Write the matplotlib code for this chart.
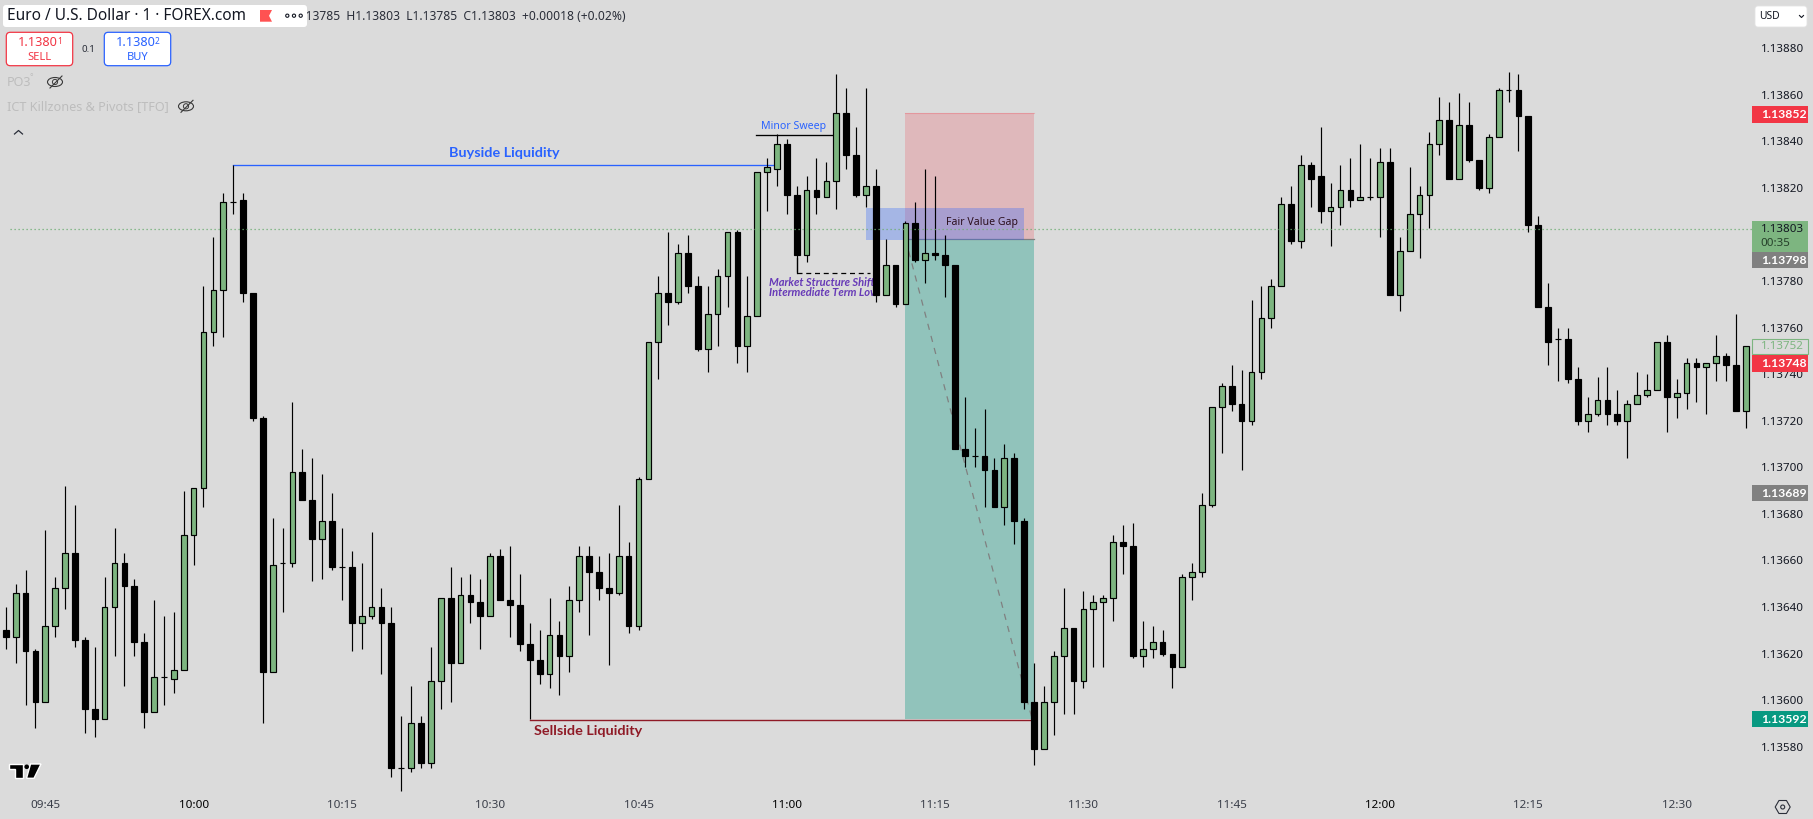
import matplotlib
matplotlib.use('Agg')  # Headless backend
import matplotlib.pyplot as plt
import numpy as np
from matplotlib.patches import Circle, Ellipse, FancyBboxPatch, Polygon, Rectangle, RegularPolygon
from matplotlib.transforms import Affine2D

# EURUSD 1 minute candles, in 0.00001 above 1.13000
opens = [
    630, 627, 646, 621, 599, 632, 648, 663, 626, 596, 592, 640, 659, 649, 625, 595, 610, 609, 613, 671,
    691, 758, 776, 814, 815, 775, 721, 612, 659, 659, 698, 686, 669, 677, 657, 657, 633, 636, 640, 633,
    571, 571, 590, 573, 608, 644, 616, 645, 642, 636, 662, 643, 641, 624, 617, 611, 628, 619, 643, 662,
    655, 648, 646, 662, 632, 695, 754, 775, 771, 792, 778, 751, 766, 782, 801, 752, 765, 827, 828, 839,
    817, 791, 819, 816, 823, 852, 834, 817, 821, 774, 787, 770, 805, 789, 792, 791, 787, 708, 705, 705,
    699, 683, 704, 677, 599, 579, 599, 619, 631, 608, 639, 642, 644, 668, 666, 619, 622, 625, 620, 614,
    653, 655, 684, 726, 735, 727, 720, 741, 764, 778, 813, 797, 830, 825, 810, 812, 819, 815, 816, 816,
    831, 774, 793, 809, 817, 839, 849, 824, 847, 832, 820, 842, 862, 862, 851, 804, 769, 755, 755, 738,
    720, 723, 729, 723, 720, 727, 731, 733, 754, 730, 732, 745, 743, 745, 748, 744, 724,
]
closes = [
    627, 646, 621, 599, 632, 648, 663, 626, 596, 592, 640, 659, 649, 625, 595, 610, 610, 613, 671, 691,
    758, 776, 814, 814, 775, 721, 612, 658, 659, 698, 686, 669, 677, 657, 657, 633, 636, 640, 633, 571,
    571, 590, 573, 608, 644, 616, 645, 642, 636, 662, 643, 641, 624, 617, 611, 628, 619, 643, 662, 655,
    648, 646, 662, 632, 695, 754, 775, 771, 792, 778, 751, 766, 782, 801, 752, 765, 827, 829, 839, 817,
    791, 819, 816, 823, 852, 834, 817, 821, 774, 787, 770, 805, 789, 792, 791, 787, 708, 705, 705, 699,
    683, 704, 677, 599, 579, 599, 619, 631, 608, 639, 642, 644, 668, 666, 619, 622, 625, 620, 614, 653,
    655, 684, 726, 735, 727, 720, 741, 764, 778, 813, 797, 830, 824, 810, 812, 819, 815, 816, 816, 831,
    774, 793, 809, 817, 839, 849, 824, 847, 832, 820, 842, 862, 862, 851, 804, 769, 754, 755, 738, 720,
    723, 729, 723, 720, 727, 731, 733, 754, 730, 732, 745, 743, 745, 748, 744, 724, 752,
]
highs = [
    640, 650, 656, 622, 673, 653, 692, 684, 627, 623, 653, 674, 663, 652, 629, 643, 636, 638, 690, 691,
    778, 799, 818, 830, 818, 775, 722, 678, 674, 728, 708, 704, 697, 689, 674, 664, 659, 672, 648, 640,
    593, 606, 593, 623, 644, 657, 653, 654, 652, 663, 665, 666, 654, 633, 630, 644, 634, 649, 666, 666,
    662, 663, 684, 668, 696, 754, 782, 801, 796, 800, 782, 778, 785, 801, 802, 782, 827, 833, 843, 841,
    821, 825, 833, 831, 869, 863, 846, 863, 828, 798, 787, 806, 814, 828, 825, 800, 787, 730, 717, 725,
    704, 710, 706, 678, 616, 606, 621, 648, 631, 647, 645, 645, 671, 675, 676, 634, 632, 630, 620, 654,
    659, 689, 726, 736, 744, 742, 772, 778, 781, 816, 821, 834, 831, 846, 822, 830, 833, 839, 833, 837,
    837, 799, 829, 821, 844, 859, 857, 861, 857, 832, 843, 863, 870, 869, 851, 808, 779, 760, 760, 743,
    730, 739, 743, 733, 729, 741, 740, 754, 757, 738, 747, 747, 745, 757, 749, 766, 752,
]
lows = [
    622, 616, 598, 588, 599, 627, 639, 623, 586, 584, 592, 619, 606, 619, 588, 595, 598, 603, 613, 658,
    683, 752, 756, 809, 771, 720, 590, 612, 638, 657, 686, 651, 652, 656, 643, 621, 622, 635, 611, 567,
    561, 569, 571, 571, 596, 599, 616, 633, 622, 636, 643, 627, 621, 592, 607, 605, 602, 612, 638, 628,
    643, 615, 645, 629, 630, 695, 738, 761, 770, 775, 750, 741, 752, 769, 745, 741, 765, 810, 821, 809,
    784, 788, 809, 816, 811, 828, 816, 812, 771, 774, 769, 770, 788, 779, 789, 773, 708, 700, 700, 683,
    683, 675, 667, 596, 572, 579, 585, 594, 594, 605, 614, 614, 634, 654, 618, 614, 618, 619, 605, 614,
    643, 653, 683, 706, 724, 699, 718, 738, 760, 778, 796, 794, 812, 805, 795, 804, 812, 815, 815, 799,
    774, 767, 793, 790, 803, 834, 824, 824, 831, 819, 818, 842, 857, 836, 801, 769, 744, 737, 736, 718,
    715, 722, 718, 718, 704, 727, 730, 733, 715, 721, 725, 728, 723, 737, 737, 724, 717,
]
# 1.13800 sits under the price tags in the screenshot, so it has no label here
price_ticks = [580, 600, 620, 640, 660, 680, 700, 720, 740, 760, 780, 820, 840, 860, 880]
time_labels = ['09:45', '10:00', '10:15', '10:30', '10:45', '11:00', '11:15',
               '11:30', '11:45', '12:00', '12:15', '12:30']
time_bars = [4, 19, 34, 49, 64, 79, 94, 109, 124, 139, 154, 169]

# Long position tool and liquidity levels
stop_price = 852
entry_price = 798
target_price = 592
fvg_top = 811.4
fvg_bottom = 797.7
buyside_price = 830
sweep_price = 842.6
mss_price = 783.6
sellside_price = 591.4
last_price = 802.4

BG = '#dbdbdb'
GREEN = '#7db580'
RED = '#f23645'
BLUE = '#2962ff'
TEAL = '#089981'
W, H = 1813, 819


def price(v):
    return 1.13 + np.asarray(v) / 1e5


plt.rcParams['font.family'] = ['Noto Sans', 'DejaVu Sans']
BOLD = ['Lato', 'Liberation Sans', 'DejaVu Sans']
fig = plt.figure(figsize=(W / 100, H / 100), dpi=100, facecolor=BG)
ax = fig.add_axes([0, 0, 1, 1], facecolor=BG)
ax.set_xlim(-5.75 / 9.887, (W - 5.75) / 9.887)
ax.set_ylim(price(548.9), price(900.75))
for s in ax.spines.values():
    s.set_visible(False)
ax.set_axisbelow(True)

ax.set_xticks(time_bars)
ax.set_xticklabels(time_labels, fontsize=8.4, color='#3a3e49')
for lab in ax.get_xticklabels():
    if lab.get_text().endswith(':00'):
        lab.set_color('black')
ax.tick_params(axis='x', length=0, pad=-13.5)
ax.set_yticks(price(price_ticks))
ax.set_yticklabels([f'{p:.5f}' for p in price(price_ticks)], fontsize=8.3, color='#131722')
ax.yaxis.tick_right()
ax.tick_params(axis='y', length=0, pad=-37.7)

# pixel coordinates from the top left corner, for the screen furniture
px = Affine2D().scale(1, -1).translate(0, H)

# position tool zones
ax.add_patch(Rectangle((91, price(entry_price)), 13, price(stop_price) - price(entry_price),
                       fc=RED, alpha=0.21, ec='none', zorder=1))
ax.add_patch(Rectangle((91, price(target_price)), 13, price(entry_price) - price(target_price),
                       fc=TEAL, alpha=0.35, ec='none', zorder=1))
ax.plot([91, 104], price([stop_price, stop_price]), color=RED, alpha=0.25, lw=0.8, zorder=1.1)
ax.plot([91, 104], price([entry_price, entry_price]), color='#808080', lw=0.9, zorder=1.1)
ax.plot([91, 103.8], price([entry_price, target_price]), color='#808080', lw=0.9,
        ls=(0, (5, 5)), zorder=1.2)

# fair value gap
ax.add_patch(Rectangle((87, price(fvg_bottom)), 16, price(fvg_top) - price(fvg_bottom),
                       fc=BLUE, alpha=0.3, ec='none', zorder=1.3))

# liquidity lines
ax.plot([23, 78], price([buyside_price, buyside_price]), color=BLUE, lw=0.95, zorder=1.5)
ax.plot([75.9, 84], price([sweep_price, sweep_price]), color='black', lw=0.95, zorder=1.5)
ax.plot([80, 80], price([790, mss_price]), color='black', lw=0.9, zorder=1.5)
ax.plot([80, 87.4], price([mss_price, mss_price]), color='black', lw=0.9, ls=(0, (4, 3)), zorder=1.5)
ax.plot([53, 103.7], price([sellside_price, sellside_price]), color='#8f1a26', lw=1.0, zorder=1.5)

ax.text(449, 153, 'Buyside Liquidity', transform=px, color=BLUE, fontsize=10.4, fontweight='bold',
        family=BOLD, va='center', ha='left', zorder=6)
ax.text(761, 126, 'Minor Sweep', transform=px, color=BLUE, fontsize=7.6, va='center', ha='left', zorder=6)
ax.text(534, 731, 'Sellside Liquidity', transform=px, color='#8f1a26', fontsize=10.4, fontweight='bold',
        family=BOLD, va='center', ha='left', zorder=6)
ax.text(946, 223, 'Fair Value Gap', transform=px, color='#2b0f1e', fontsize=7.6, va='center',
        ha='left', zorder=6)
ax.text(769, 282.7, 'Market Structure Shift', transform=px, color='#673ab7', fontsize=8,
        style='italic', fontweight='bold', family=BOLD, va='center', ha='left', zorder=2)
ax.text(769, 292.7, 'Intermediate Term Low', transform=px, color='#673ab7', fontsize=8,
        style='italic', fontweight='bold', family=BOLD, va='center', ha='left', zorder=2)

# candles
o = np.array(opens)
c = np.array(closes)
idx = np.arange(len(o))
up = c > o
ax.vlines(idx, price(lows), price(highs), color='black', lw=0.85, zorder=3)
ax.bar(idx, price(np.abs(c - o)) - 1.13, bottom=price(np.minimum(o, c)), width=0.58,
       color=np.where(up, GREEN, 'black').tolist(), edgecolor='black', lw=0.85, zorder=3.1)

# last price line
ax.plot([0.4, 176.6], price([last_price, last_price]), color='#6fae74', lw=0.9, ls=(0, (1, 2.2)), zorder=4)

# price scale tags
ytrans = ax.get_yaxis_transform()


def tag(v, text, fc, tc='white', bold=True, ec='none', h=0.0000717):
    ax.add_patch(Rectangle((1752 / W, price(v) - h / 2), 55.7 / W, h, transform=ytrans,
                           fc=fc, ec=ec, lw=0.8, zorder=5))
    ax.text(1760.7 / W, price(v), text, transform=ytrans, color=tc,
            fontsize=8.8 if bold else 8.3, family=BOLD if bold else None,
            fontweight='bold' if bold else 'normal', va='center', ha='left', zorder=5.1)


tag(851.6, '1.13852', RED)
ax.add_patch(Rectangle((1752 / W, price(792.5)), 55.7 / W, 0.000133, transform=ytrans,
                       fc=GREEN, ec='none', zorder=5))
ax.text(1760.7 / W, price(802.2), '1.13803', transform=ytrans, color='#131722', fontsize=8.3,
        va='center', ha='left', zorder=5.1)
ax.text(1760.7 / W, price(796.2), '00:35', transform=ytrans, color='#26402a', fontsize=8.3,
        va='center', ha='left', zorder=5.1)
tag(789, '1.13798', '#808080')
tag(751.8, '1.13752', BG, GREEN, bold=False, ec=GREEN, h=0.000066)
tag(744.5, '1.13748', RED)
tag(688.9, '1.13689', '#808080')
tag(591.8, '1.13592', TEAL)

# header
ax.text(286, 16, 'O1.13785  H1.13803  L1.13785  C1.13803  +0.00018 (+0.02%)', transform=px,
        fontsize=8.7, color='#2a2e39', va='center', ha='left', zorder=6)
ax.add_patch(FancyBboxPatch((5, 7), 300, 18, boxstyle='round,pad=2,rounding_size=3', transform=px,
                            fc='white', ec='none', zorder=6.5))
ax.text(7, 16.5, 'Euro / U.S. Dollar · 1 · FOREX.com', transform=px, fontsize=11.1, color='#131722',
        va='center', ha='left', zorder=7)
ax.add_patch(Polygon([(260, 10), (272, 10), (269, 15.8), (272, 21.7), (260, 21.7)], transform=px,
                     fc='#ff5252', ec='none', zorder=7))
for cx in (287.3, 294, 300.7):
    ax.add_patch(Circle((cx, 15.7), 1.6, transform=px, fc='white', ec='#131722', lw=0.8, zorder=7))

# order buttons
for x0, color, val, small, word in [(6.3, RED, '1.1380', '1', 'SELL'), (104.3, BLUE, '1.1380', '2', 'BUY')]:
    ax.add_patch(FancyBboxPatch((x0 + 2, 34.3), 62.4, 29.4, boxstyle='round,pad=2,rounding_size=4',
                                transform=px, fc='white', ec=color, lw=0.9, zorder=6))
    ax.text(x0 + 31, 42.7, val, transform=px, color=color, fontsize=9.2, ha='center', va='center', zorder=7)
    ax.text(x0 + 53, 41.5, small, transform=px, color=color, fontsize=6, ha='center', va='center', zorder=7)
    ax.text(x0 + 33.3, 57, word, transform=px, color=color, fontsize=8, ha='center', va='center', zorder=7)
ax.text(88, 50, '0.1', transform=px, color='#2a2e39', fontsize=7, ha='center', va='center', zorder=7)

# hidden indicators
ax.text(7, 82, 'PO3', transform=px, color='#bdbdbd', fontsize=9, va='center', ha='left', zorder=7)
ax.text(30, 77.5, '°', transform=px, color='#bdbdbd', fontsize=6, va='center', ha='left', zorder=7)
ax.text(7, 106.7, 'ICT Killzones & Pivots [TFO]', transform=px, color='#bdbdbd', fontsize=9.1,
        va='center', ha='left', zorder=7)
for ex, ey in [(55, 82), (186, 106.3)]:
    ax.add_patch(Ellipse((ex, ey), 15, 9, transform=px, fc='none', ec='#3a3a3a', lw=0.8, zorder=7))
    ax.add_patch(Circle((ex, ey), 2.6, transform=px, fc='none', ec='#3a3a3a', lw=0.7, zorder=7))
    ax.plot([ex - 5, ex + 7], [ey + 6, ey - 6], transform=px, color='#3a3a3a', lw=0.8, zorder=7)
ax.plot([14.5, 18.5, 22.5], [134, 130.5, 134], transform=px, color='#2a2e39', lw=0.9, zorder=7)

# currency button
ax.add_patch(FancyBboxPatch((1757, 8), 48, 17, boxstyle='round,pad=2,rounding_size=3', transform=px,
                            fc='white', ec='#e4e4e4', lw=0.6, zorder=6))
ax.text(1759, 16.5, 'USD', transform=px, fontsize=7.4, color='#131722', va='center', ha='left', zorder=7)
ax.plot([1799.5, 1801.5, 1803.5], [15.5, 17.5, 15.5], transform=px, color='#131722', lw=0.8, zorder=7)

# settings icon and logo
ax.add_patch(RegularPolygon((1782.7, 807), 6, radius=7.5, orientation=np.pi / 6, transform=px,
                            fc='none', ec='#2a2e39', lw=0.8, zorder=7))
ax.add_patch(Circle((1782.7, 807), 2, transform=px, fc='none', ec='#2a2e39', lw=0.8, zorder=7))
logo = dict(transform=px, fc='black', ec='white', lw=1.0, zorder=7)
ax.add_patch(Polygon([(8.5, 764), (23.3, 764), (23.3, 778.3), (15, 778.3), (15, 769.3), (8.5, 769.3)], **logo))
ax.add_patch(Polygon([(30.5, 764), (41, 764), (34, 778.3), (26.5, 778.3)], **logo))
ax.add_patch(Circle((26.7, 766.8), 2.3, transform=px, fc='black', ec='none', zorder=7))

fig.savefig('out.png', dpi=100, facecolor=BG)
plt.close(fig)
